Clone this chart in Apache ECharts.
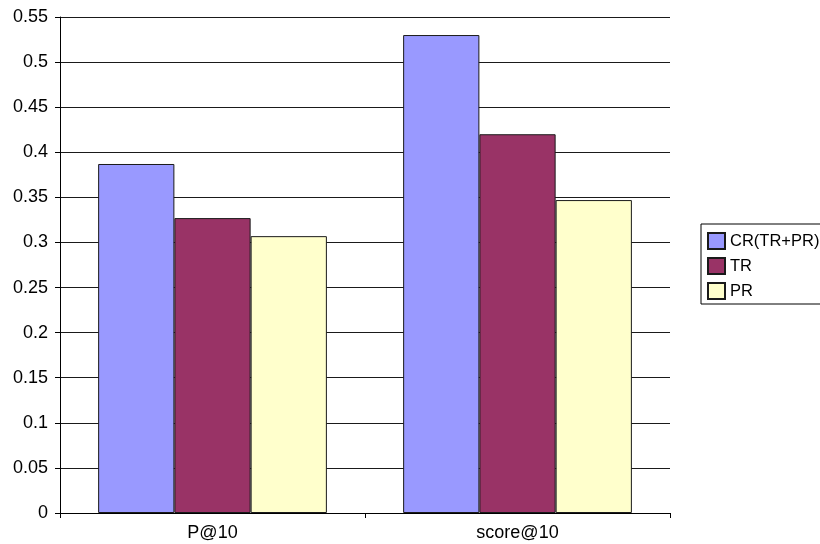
<!DOCTYPE html>
<html>
<head>
<meta charset="utf-8">
<script src="https://cdn.jsdelivr.net/npm/echarts@6/dist/echarts.min.js"></script>
<style>
  html, body { margin: 0; padding: 0; background: #fff; }
  #chart { width: 820px; height: 544px; }
</style>
</head>
<body>
<div id="chart"></div>
<script>
// Metrics on the x axis
const categories = ['P@10', 'score@10'];

// One array per ranking method
const seriesNames = ['CR(TR+PR)', 'TR', 'PR'];
const crValues = [0.387, 0.530];
const trValues = [0.327, 0.420];
const prValues = [0.307, 0.347];

// Y axis ticks: 0 to 0.55 by 0.05
const yMin = 0;
const yMax = 0.55;
const yStep = 0.05;

const seriesValues = [crValues, trValues, prValues];
const fills = ['#9999FF', '#993366', '#FFFFCC'];

const font = '"Liberation Sans", Arial, sans-serif';

const chart = echarts.init(document.getElementById('chart'), null, { renderer: 'canvas' });

chart.setOption({
  animation: false,
  backgroundColor: '#ffffff',
  grid: { left: 60, right: 150, top: 17, bottom: 31, containLabel: false },
  legend: {
    orient: 'vertical',
    left: 701,
    top: 224,
    data: seriesNames,
    icon: 'rect',
    itemWidth: 17,
    itemHeight: 16,
    itemGap: 7,
    padding: [8, 12, 4, 6],
    borderColor: '#000',
    borderWidth: 1,
    backgroundColor: '#fff',
    textStyle: { fontFamily: font, fontSize: 16.5, color: '#000' }
  },
  xAxis: {
    type: 'category',
    data: categories,
    axisLine: { show: true, lineStyle: { color: '#000', width: 1 } },
    axisTick: { show: true, alignWithLabel: false, length: 5, lineStyle: { color: '#000' } },
    axisLabel: { fontFamily: font, fontSize: 18, color: '#000', margin: 11 },
    splitLine: { show: false }
  },
  yAxis: {
    type: 'value',
    min: yMin,
    max: yMax,
    interval: yStep,
    axisLine: { show: true, lineStyle: { color: '#000', width: 1 } },
    axisTick: { show: true, length: 5, lineStyle: { color: '#000' } },
    axisLabel: {
      fontFamily: font, fontSize: 18, color: '#000', margin: 12,
      formatter: v => String(parseFloat(v.toFixed(2)))
    },
    splitLine: { show: true, lineStyle: { color: '#1a1a1a', width: 1 } }
  },
  series: seriesNames.map((name, i) => ({
    name: name,
    type: 'bar',
    data: seriesValues[i],
    barGap: '0%',
    barCategoryGap: '25%',
    itemStyle: { color: fills[i], borderColor: '#1a1a1a', borderWidth: 1 }
  }))
});
</script>
</body>
</html>
